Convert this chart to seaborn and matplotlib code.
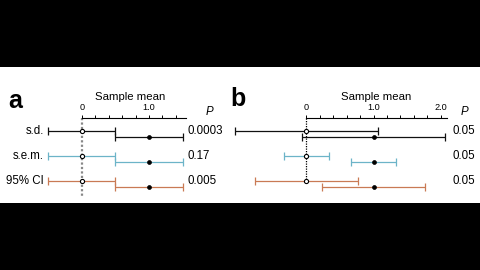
import numpy as np
import pandas as pd
import matplotlib
matplotlib.use("Agg")
import matplotlib.pyplot as plt
import seaborn as sns
from matplotlib.patches import Rectangle
from matplotlib.ticker import FixedLocator

sns.set_style("white")
plt.rcParams['font.family'] = ['Liberation Sans', 'DejaVu Sans']
plt.rcParams['text.color'] = 'black'
plt.rcParams['axes.labelcolor'] = 'black'
plt.rcParams['xtick.color'] = 'black'

# ---- data ----
measures = ["s.d.", "s.e.m.", "95% CI"]
colors = ["#111111", "#6cb4c8", "#c97a54"]
mean1 = 0.0
mean2 = 1.0
half_a = [0.5, 0.5, 0.5]
half_b = [1.06, 0.335, 0.765]
p_a = ["0.0003", "0.17", "0.005"]
p_b = ["0.05", "0.05", "0.05"]

W, H = 480, 270
fig = plt.figure(figsize=(4.8, 2.7), dpi=100)
fig.patch.set_facecolor("black")
fig.patches.append(Rectangle((0, 1 - 203 / H), 1, (203 - 67) / H,
                             transform=fig.transFigure, facecolor="white",
                             edgecolor="none", zorder=-5))

ROW0 = 130.7   # pixel y of first row
ROWSTEP = 25.0
OFF = 0.26     # offset of second sample within a row


def py(px):
    return (px - ROW0) / ROWSTEP


def make_panel(rect, xlim, bound, majors, halves, pvals, dotcolor, dotlw,
               dot_bottom, label_x, pval_x, P_x, sm_x, show_rows):
    ax = fig.add_axes(rect)
    ax.set_facecolor("none")
    ax.set_xlim(*xlim)
    ax.set_ylim(py(200), py(118))

    # dotted reference line at zero
    ax.vlines(0, py(118), py(dot_bottom), colors=dotcolor,
              linestyles=(0, (1, 1)), linewidth=dotlw, zorder=1)

    rows = []
    for i, (m, c, h) in enumerate(zip(measures, colors, halves)):
        y1 = i
        y2 = i + OFF
        ax.errorbar([mean1], [y1], xerr=[h], fmt="none", ecolor=c,
                    elinewidth=0.9, capsize=2.6, capthick=0.9, clip_on=False,
                    zorder=2)
        ax.errorbar([mean2], [y2], xerr=[h], fmt="none", ecolor=c,
                    elinewidth=0.9, capsize=2.6, capthick=0.9, clip_on=False,
                    zorder=2)
        rows.append({"x": mean1, "y": y1, "kind": "open"})
        rows.append({"x": mean2, "y": y2, "kind": "filled"})
        if show_rows:
            ax.text(label_x, y1, m, ha="right", va="center", fontsize=8.3,
                    color="black")
        ax.text(pval_x, y1, pvals[i], ha="left", va="center", fontsize=8.3,
                color="black")
    df = pd.DataFrame(rows)
    sns.scatterplot(data=df[df.kind == "open"], x="x", y="y", ax=ax,
                    marker="o", s=9, facecolor="white", edgecolor="black",
                    linewidth=0.8, zorder=3, clip_on=False, legend=False)
    sns.scatterplot(data=df[df.kind == "filled"], x="x", y="y", ax=ax,
                    marker="o", s=8, color="black", edgecolor="black",
                    linewidth=0.5, zorder=3, clip_on=False, legend=False)
    ax.set_xlabel("")
    ax.set_ylabel("")
    ax.set_xlim(*xlim)
    ax.set_ylim(py(200), py(118))

    for s in ["left", "right", "bottom"]:
        ax.spines[s].set_visible(False)
    ax.spines["top"].set_visible(True)
    ax.spines["top"].set_bounds(0, bound)
    ax.spines["top"].set_linewidth(0.8)
    ax.spines["top"].set_color("black")
    ax.xaxis.set_ticks_position("top")
    ax.xaxis.set_label_position("top")
    ax.xaxis.set_major_locator(FixedLocator(majors))
    ax.set_xticklabels(["0" if m == 0 else f"{m:.1f}" for m in majors])
    minors = [v for v in np.arange(0, bound + 1e-9, 0.2)]
    ax.xaxis.set_minor_locator(FixedLocator(minors))
    ax.tick_params(axis="x", which="both", direction="out", length=2,
                   width=0.7, color="black", labelsize=6.6, pad=2.2,
                   top=True, bottom=False, labeltop=True, labelbottom=False)
    ax.set_yticks([])

    ax.text(sm_x, py(97), "Sample mean", ha="center", va="center",
            fontsize=8.2)
    ax.text(P_x, py(112), "P", ha="center", va="center", fontsize=8.3,
            style="italic")
    return ax


# panel a : px = 81.7 + 67.3*x
xa = (-0.8, 2.2)
la = (81.7 + 67.3 * xa[0]) / W
wa = 67.3 * (xa[1] - xa[0]) / W
rect_a = [la, (H - 200) / H, wa, 82 / H]
make_panel(rect_a, xa, 1.55, [0, 1], half_a, p_a, "#888888", 1.6, 196,
           label_x=(44 - 81.7) / 67.3, pval_x=(188 - 81.7) / 67.3,
           P_x=(209 - 81.7) / 67.3, sm_x=(130.4 - 81.7) / 67.3,
           show_rows=True)

# panel b : px = 306.3 + 67.2*x
xb = (-1.15, 2.3)
lb = (306.3 + 67.2 * xb[0]) / W
wb = 67.2 * (xb[1] - xb[0]) / W
rect_b = [lb, (H - 200) / H, wb, 82 / H]
make_panel(rect_b, xb, 2.1, [0, 1, 2], half_b, p_b, "black", 0.9, 182,
           label_x=0, pval_x=(452.7 - 306.3) / 67.2,
           P_x=(464 - 306.3) / 67.2, sm_x=(375.8 - 306.3) / 67.2,
           show_rows=False)

fig.text(8 / W, 1 - 107.5 / H, "a", fontsize=18, fontweight="bold",
         va="baseline", ha="left")
fig.text(230 / W, 1 - 105.5 / H, "b", fontsize=18, fontweight="bold",
         va="baseline", ha="left")

fig.savefig("out.png", dpi=100, facecolor=fig.get_facecolor())
